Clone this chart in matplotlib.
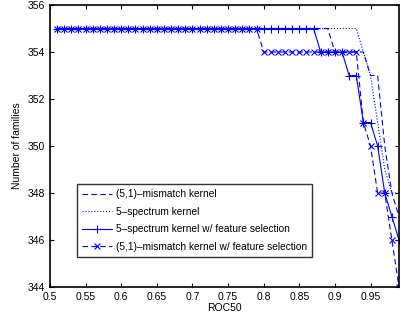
import numpy as np
import matplotlib
matplotlib.use("Agg")
import matplotlib.pyplot as plt

plt.rcParams['font.family'] = ['Liberation Sans', 'DejaVu Sans']

# ROC50 thresholds
roc = np.round(np.arange(0.51, 0.995, 0.01), 2)
n = len(roc)

def steps(base, tail):
    # constant 355 then a list of tail values at the end
    return [base] * (n - len(tail)) + tail

# number of families per series
mismatch = steps(355, [354, 354, 354, 354, 354, 353, 353, 350, 348, 347])
spectrum = steps(355, [354, 353, 351, 349, 348, 348])
spectrum_fs = steps(355, [354, 354, 354, 354, 353, 353, 351, 351, 350, 348, 347, 346])
mismatch_fs = [355] * 29 + [354] * 14 + [351, 350, 348, 348, 346, 344]

labels = ["(5,1)\u2013mismatch kernel", "5\u2013spectrum kernel",
          "5\u2013spectrum kernel w/ feature selection",
          "(5,1)\u2013mismatch kernel w/ feature selection"]

fig = plt.figure(figsize=(4.01, 3.22), dpi=100)
ax = fig.add_axes([50/401, 35/322, 349/401, 282/322])

lw = 0.8
ax.plot(roc, mismatch, '--', color='blue', lw=lw, dashes=(5, 3), label=labels[0])
ax.plot(roc, spectrum, ':', color='blue', lw=lw, label=labels[1])
ax.plot(roc, spectrum_fs, '-', color='blue', lw=lw, marker='+', ms=6, mew=0.8, label=labels[2])
ax.plot(roc, mismatch_fs, '--', color='blue', lw=lw, dashes=(5, 3), marker='x', ms=4, mew=0.8, label=labels[3])

ax.set_xlim(0.5, 0.99)
ax.set_ylim(344, 356)
ax.set_xticks(np.arange(0.5, 0.96, 0.05))
ax.set_xticklabels(["0.5", "0.55", "0.6", "0.65", "0.7", "0.75", "0.8", "0.85", "0.9", "0.95"])
ax.set_yticks(range(344, 357, 2))
ax.tick_params(direction='in', top=True, right=True, labelsize=7.5, length=3, width=0.8)
for s in ax.spines.values():
    s.set_linewidth(1.2)

ax.set_xlabel("ROC50", fontsize=7.5, labelpad=1)
ax.set_ylabel("Number of families", fontsize=7.5, labelpad=4)

leg = ax.legend(loc='lower left', bbox_to_anchor=(77/401, 65/322), bbox_transform=fig.transFigure,
                fontsize=7.3, frameon=True, fancybox=False, borderpad=0.5, labelspacing=0.75,
                handlelength=3.0, handletextpad=0.3, borderaxespad=0, numpoints=1)
leg.get_frame().set_edgecolor('black')
leg.get_frame().set_linewidth(1.0)

plt.savefig("out.png", dpi=100)
plt.close()
